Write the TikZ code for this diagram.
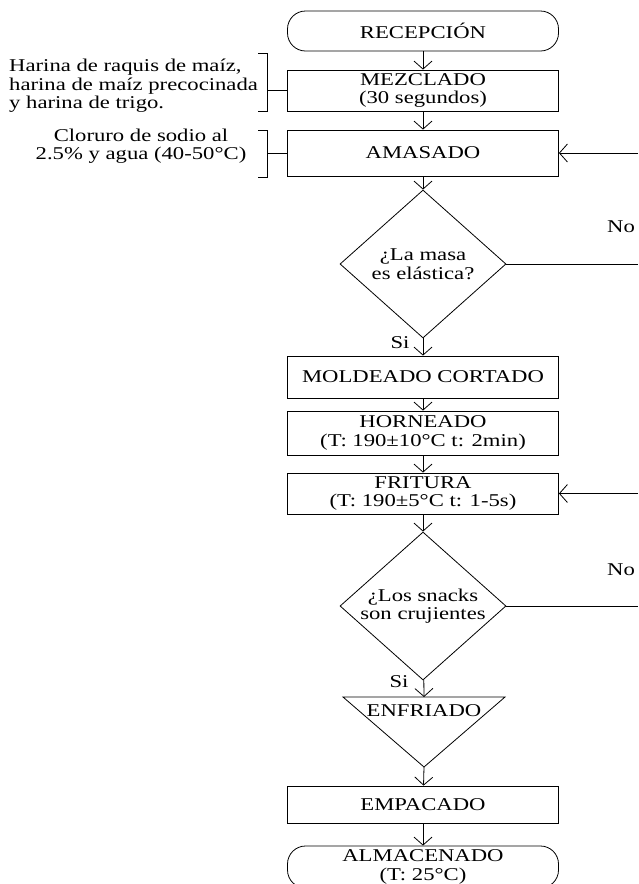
\documentclass[tikz,border=0pt]{standalone}
\usepackage{fontspec}
\setmainfont{Liberation Serif}[FakeStretch=1.26]
\usetikzlibrary{shapes.geometric,arrows.meta}
\begin{document}
\begin{tikzpicture}[x=1pt,y=-1pt,
  every node/.style={font=\fontsize{18}{18.5}\selectfont, inner sep=0pt},
  proc/.style={draw, line width=0.8pt, minimum width=271pt, align=center},
  term/.style={proc, rounded corners=18pt},
  dec/.style={draw, diamond, aspect=1.12, minimum width=166pt, minimum height=148pt, line width=0.8pt, align=center},
  arr/.style={line width=0.8pt, -{Straight Barb[length=8pt,width=18pt]}},
  ln/.style={line width=0.8pt}]
\useasboundingbox (0,0) rectangle (638,884);
% main column
\node[term, minimum height=40pt] (rec) at (423,31) {RECEPCIÓN};
\node[proc, minimum height=41pt] (mez) at (423,90.5) {MEZCLADO\\(30 segundos)};
\node[proc, minimum height=46pt] (ama) at (423,153) {AMASADO};
\node[dec] (d1) at (423,264) {¿La masa\\es elástica?};
\node[proc, minimum height=42pt] (mol) at (423,377) {MOLDEADO CORTADO};
\node[proc, minimum height=44pt] (hor) at (423,433) {HORNEADO\\(T: 190±10°C t: 2min)};
\node[proc, minimum height=41pt] (fri) at (423,493.5) {FRITURA\\(T: 190±5°C t: 1-5s)};
\node[dec] (d2) at (423,606) {¿Los snacks\\son crujientes};
\coordinate (enftop) at (424,697);
\coordinate (enfbot) at (424,767);
\draw[ln] (343,697) -- (505,697) -- (enfbot) -- cycle;
\node (enf) at (424,711) {ENFRIADO};
\node[proc, minimum height=37pt] (emp) at (423,804.5) {EMPACADO};
\node[term, minimum height=42pt] (alm) at (423,867) {ALMACENADO\\(T: 25°C)};
% side inputs
\node[align=left, anchor=west] (t1) at (9,86) {Harina de raquis de maíz,\\harina de maíz precocinada\\y harina de trigo.};
\node[align=center] (t2) at (141,146) {Cloruro de sodio al\\2.5\% y agua (40-50°C)};
\draw[ln] (258,53) -- (267,53) -- (267,111) -- (258,111);
\coordinate (b1) at (267,90.5);
\draw[ln] (b1) -- (mez.west);
\draw[ln] (258,130) -- (267,130) -- (267,177) -- (258,177);
\coordinate (b2) at (267,153);
\draw[ln] (b2) -- (ama.west);
% flow arrows
\draw[arr] (rec) -- (mez);
\draw[arr] (mez) -- (ama);
\draw[arr] (ama) -- (d1);
\draw[arr] (d1) -- (mol);
\node (si1) at (400,343) {Si};
\draw[arr] (mol) -- (hor);
\draw[arr] (hor) -- (fri);
\draw[arr] (fri) -- (d2);
\draw[arr] (d2) -- (enftop);
\node (si2) at (399,682) {Si};
\draw[arr] (enfbot) -- (emp);
\draw[arr] (emp) -- (alm);
% feedback
\coordinate (e1) at (638,153);
\draw[arr] (e1) -- (ama.east);
\coordinate (e2) at (638,264);
\draw[ln] (d1.east) -- (e2);
\node (no1) at (621,227) {No};
\coordinate (e3) at (638,493.5);
\draw[arr] (e3) -- (fri.east);
\coordinate (e4) at (638,606);
\draw[ln] (d2.east) -- (e4);
\node (no2) at (621,570) {No};
\end{tikzpicture}
\end{document}
